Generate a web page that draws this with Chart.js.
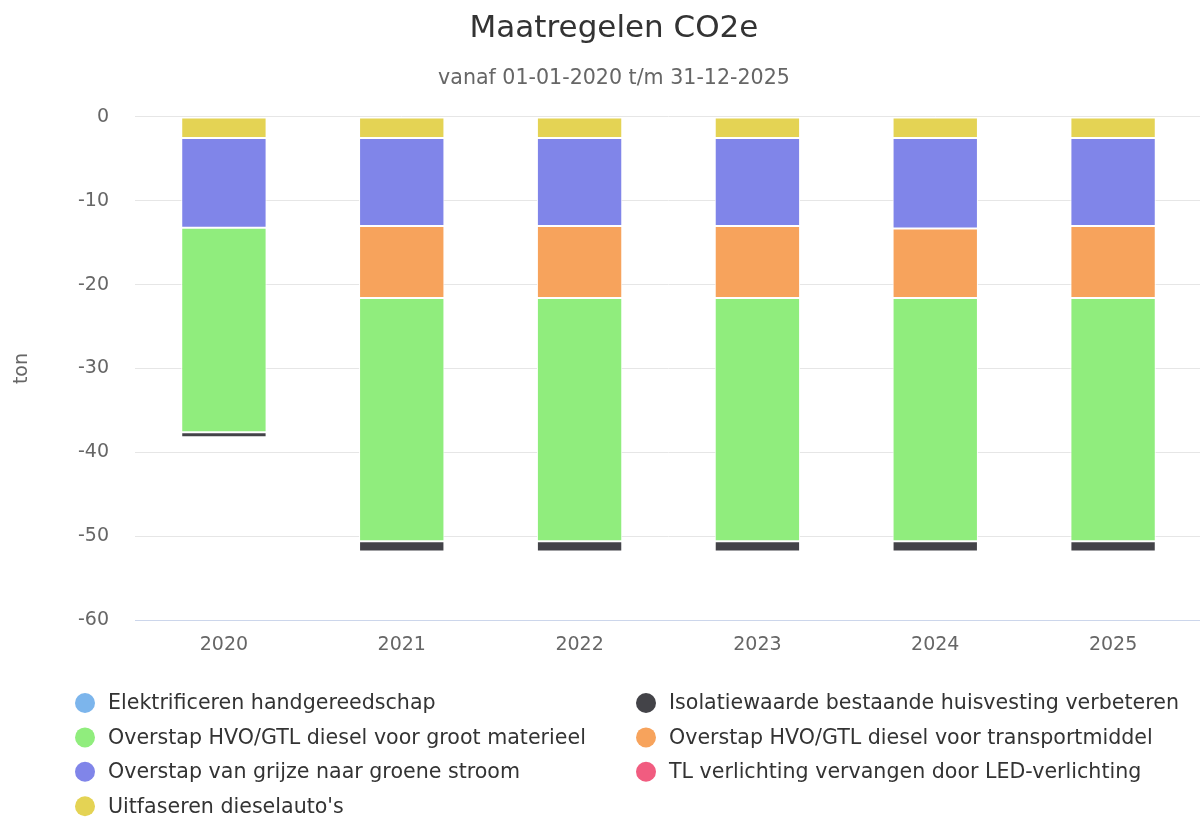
<!DOCTYPE html>
<html>
<head>
<meta charset="utf-8">
<script src="https://cdn.jsdelivr.net/npm/chart.js@4.4.1/dist/chart.umd.min.js"></script>
<style>
html,body{margin:0;padding:0;background:#fff;overflow:hidden;}
#wrap{position:relative;width:1228px;height:818px;}
canvas{display:block;}
</style>
</head>
<body>
<div id="wrap"><canvas id="c" width="1228" height="818"></canvas></div>
<script>
// ---- data (tonnes CO2e, negative = reduction) ----
const years = ['2020', '2021', '2022', '2023', '2024', '2025'];
const uitfaserenDieselautos   = [-2.5, -2.5, -2.5, -2.5, -2.5, -2.5];
const grijzeNaarGroeneStroom  = [-10.7, -10.5, -10.5, -10.5, -10.8, -10.5];
const hvoTransportmiddel      = [0, -8.6, -8.6, -8.6, -8.3, -8.6];
const hvoGrootMaterieel       = [-24.4, -29.0, -29.0, -29.0, -29.0, -29.0];
const isolatiewaarde          = [-0.6, -1.2, -1.2, -1.2, -1.2, -1.2];
const elektrificeren          = [0, 0, 0, 0, 0, 0];
const tlNaarLed               = [0, 0, 0, 0, 0, 0];
const yTicks = [0, -10, -20, -30, -40, -50, -60];

const legendOrder = [
  'Elektrificeren handgereedschap',
  'Isolatiewaarde bestaande huisvesting verbeteren',
  'Overstap HVO/GTL diesel voor groot materieel',
  'Overstap HVO/GTL diesel voor transportmiddel',
  'Overstap van grijze naar groene stroom',
  'TL verlichting vervangen door LED-verlichting',
  "Uitfaseren dieselauto's"
];

const FONT = '"DejaVu Sans", "Liberation Sans", sans-serif';
Chart.defaults.font.family = FONT;

const mk = (label, data, color) => ({
  label, data, backgroundColor: color, borderColor: '#ffffff',
  borderWidth: 1, borderSkipped: false,
  barPercentage: 0.48, categoryPercentage: 1.0
});

const datasets = [
  mk("Uitfaseren dieselauto's", uitfaserenDieselautos, '#e4d354'),
  mk('Overstap van grijze naar groene stroom', grijzeNaarGroeneStroom, '#8085e9'),
  mk('Overstap HVO/GTL diesel voor transportmiddel', hvoTransportmiddel, '#f7a35c'),
  mk('Overstap HVO/GTL diesel voor groot materieel', hvoGrootMaterieel, '#90ed7d'),
  mk('Isolatiewaarde bestaande huisvesting verbeteren', isolatiewaarde, '#434348'),
  mk('Elektrificeren handgereedschap', elektrificeren, '#7cb5ec'),
  mk('TL verlichting vervangen door LED-verlichting', tlNaarLed, '#f15c80')
];

const legendPlugin = {
  id: 'twoColLegend',
  afterDraw(chart) {
    const ctx = chart.ctx;
    const colX = [85, 646];
    const rowY0 = 703, rowGap = 34.4;
    ctx.save();
    ctx.font = '20.6px ' + FONT;
    ctx.textBaseline = 'middle';
    ctx.textAlign = 'left';
    legendOrder.forEach((label, i) => {
      const ds = chart.data.datasets.find(d => d.label === label);
      const cx = colX[i % 2];
      const cy = rowY0 + Math.floor(i / 2) * rowGap;
      ctx.fillStyle = ds.backgroundColor;
      ctx.beginPath();
      ctx.arc(cx, cy, 10, 0, Math.PI * 2);
      ctx.fill();
      ctx.fillStyle = '#333333';
      ctx.fillText(label, cx + 23, cy + 1);
    });
    ctx.restore();
  }
};

new Chart(document.getElementById('c'), {
  type: 'bar',
  data: { labels: years, datasets },
  plugins: [legendPlugin],
  options: {
    responsive: false,
    animation: false,
    devicePixelRatio: 1,
    layout: { padding: { top: 0, left: 26, right: 26, bottom: 149 } },
    plugins: {
      legend: { display: false },
      tooltip: { enabled: false },
      title: {
        display: true, text: 'Maatregelen CO2e', color: '#333333',
        font: { size: 31, weight: 'normal', family: FONT },
        padding: { top: 10, bottom: 19 }
      },
      subtitle: {
        display: true, text: 'vanaf 01-01-2020 t/m 31-12-2025', color: '#666666',
        font: { size: 20.6, weight: 'normal', family: FONT },
        padding: { top: 0, bottom: 26 }
      }
    },
    scales: {
      x: {
        stacked: true,
        grid: { display: false, drawTicks: false },
        border: { display: true, color: '#ccd6eb', width: 1 },
        ticks: { color: '#666666', font: { size: 19, family: FONT }, padding: 13 }
      },
      y: {
        stacked: true,
        min: -60, max: 0,
        afterBuildTicks: s => { s.ticks = yTicks.map(v => ({ value: v })); },
        afterFit: s => { s.width = 109; },
        grid: {
          color: c => (c.tick && c.tick.value === -60 ? '#ccd6eb' : '#e6e6e6'),
          lineWidth: 1, drawTicks: false
        },
        border: { display: false },
        ticks: { color: '#666666', font: { size: 19, family: FONT }, padding: 26 },
        title: {
          display: true, text: 'ton', color: '#666666',
          font: { size: 19, family: FONT },
          padding: { top: -15, bottom: 0 }
        }
      }
    }
  }
});
</script>
</body>
</html>
